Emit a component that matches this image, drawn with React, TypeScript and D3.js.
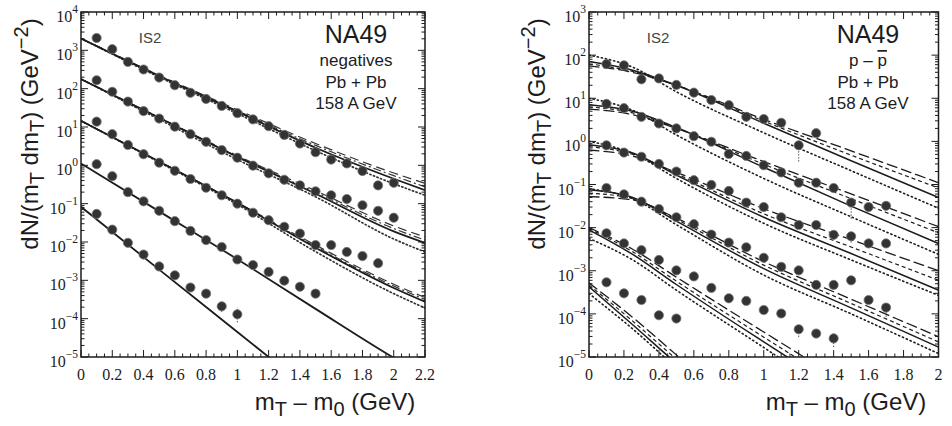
import React from "react";
import * as d3 from "d3";

// m_T - m_0 bin centres (GeV)
const mtBins = [0.1, 0.2, 0.3, 0.4, 0.5, 0.6, 0.7, 0.8, 0.9, 1.0, 1.1, 1.2, 1.3, 1.4, 1.5, 1.6, 1.7, 1.8, 1.9, 2.0];

// negative hadrons, Pb+Pb 158 A GeV: dN/(m_T dm_T) in GeV^-2, one row per rapidity slice
const negRow1 = [2100, 1070, 500, 316, 195, 123, 78, 54, 35.5, 23, 15.8, 10.5, 6.2, 3.7, 2.2, 1.41, 1.12, 0.71, 0.3, 0.35];
const negRow2 = [166, 83, 46, 26, 16.6, 10.2, 6.5, 4.1, 2.5, 1.58, 0.98, 0.62, 0.42, 0.3, 0.21, 0.166, 0.132, 0.091, 0.065, 0.043];
const negRow3 = [13.8, 6.5, 3.4, 1.95, 1.17, 0.72, 0.44, 0.26, 0.166, 0.1, 0.058, 0.037, 0.025, 0.0166, 0.0083, 0.0083, 0.0055, 0.0043, 0.0028];
const negRow4 = [1.07, 0.52, 0.2, 0.115, 0.065, 0.035, 0.0195, 0.0112, 0.0074, 0.0035, 0.0025, 0.00166, 0.00098, 0.00068, 0.00045];
const negRow5 = [0.054, 0.021, 0.0095, 0.0047, 0.0023, 0.00135, 0.00065, 0.00045, 0.00021, 0.00013];

// model curves for negatives, sampled at these m_T - m_0 values
const negKnots = [0, 0.5, 1.0, 1.5, 2.0, 2.2];
const negSolid = [
  [2040, 214, 25.1, 2.88, 0.447, 0.224],
  [178, 17.4, 1.66, 0.182, 0.019, 0.0095],
  [14.5, 1.26, 0.105, 0.0071, 6.3e-4, 2.75e-4],
  [1.12, 0.063, 0.00355, 1.8e-4, 9.5e-6, 3.2e-6],
  [0.083, 0.0019, 4.5e-5, 1.05e-6, 2.4e-8, 5e-9],
];
const negDashed = [
  [2040, 224, 28.2, 3.72, 0.631, 0.339],
  [178, 17.8, 1.78, 0.219, 0.0263, 0.0135],
  [14.5, 1.26, 0.107, 0.0083, 7.9e-4, 3.55e-4],
];
const negDashDot = [
  [2040, 219, 26.3, 3.31, 0.537, 0.275],
  [178, 17.6, 1.7, 0.2, 0.0224, 0.0112],
  [14.5, 1.26, 0.106, 0.0076, 7.1e-4, 3.16e-4],
];
const negDotted = [
  [2040, 200, 22.4, 2.4, 0.331, 0.166],
  [178, 15.8, 1.41, 0.151, 0.012, 0.0055],
  [14.5, 1.2, 0.095, 0.0056, 4.5e-4, 1.9e-4],
];
// [row, m_T - m_0, low, high]
const negErrors = [
  [4, 1.0, 8e-5, 2.0e-4],
  [4, 0.9, 1.5e-4, 2.6e-4],
  [2, 1.8, 0.0035, 0.005],
  [2, 1.9, 0.0021, 0.0035],
  [3, 1.4, 5.5e-4, 8e-4],
  [3, 1.5, 3.5e-4, 5.5e-4],
];

// net protons (p - pbar), Pb+Pb 158 A GeV
const pbarRow1 = [62, 58, 27.5, 28.8, 20.4, 13.5, 9.1, 6.9, 3.7, 3.3, 2.7, 0.81, 1.55];
const pbarRow2 = [7.4, 5.9, 3.7, 2.6, 2.0, 1.32, 0.98, 0.51, 0.46, 0.28, 0.19, 0.11, 0.11, 0.083, 0.038, 0.03, 0.032];
const pbarRow3 = [0.81, 0.55, 0.44, 0.3, 0.2, 0.126, 0.098, 0.071, 0.038, 0.03, 0.0174, 0.0115, 0.0115, 0.0068, 0.0063, 0.0043, 0.0043];
const pbarRow4 = [0.083, 0.059, 0.04, 0.027, 0.0174, 0.012, 0.0069, 0.0045, 0.0035, 0.002, 0.00123, 0.00102, 0.00047, 0.00047, 0.0006, 0.00021, 0.00014];
const pbarRow5 = [0.0074, 0.0043, 0.003, 0.00178, 0.00102, 0.00074, 0.0004, 0.00023, 0.0002, 0.000123, 0.000102, 0.000044, 0.000035, 0.000027];
const pbarRow6 = [0.00054, 0.0003, 0.00021, 0.000093, 0.000078];

const pbarKnots = [
  [0, 0.25, 0.5, 1.0, 1.5, 2.0],
  [0, 0.25, 0.5, 1.0, 1.5, 2.0],
  [0, 0.25, 0.5, 1.0, 1.5, 2.0],
  [0, 0.25, 0.5, 1.0, 1.5, 2.0],
  [0, 0.25, 0.5, 1.0, 1.25],
  [0, 0.25, 0.5, 0.6],
];
const pbarSolid = [
  [70.8, 44.7, 20.0, 2.63, 0.355, 0.0501],
  [7.08, 5.01, 2.09, 0.251, 0.0316, 0.00427],
  [0.832, 0.537, 0.166, 0.0174, 0.00251, 3.55e-4],
  [0.0759, 0.0501, 0.0141, 0.00112, 1.38e-4, 1.7e-5],
  [0.0089, 0.0024, 4.8e-4, 2.24e-5, 5.0e-6],
  [4.27e-4, 5.6e-5, 7.1e-6, 3.16e-6],
];
const pbarDashed = [
  [56.2, 39.8, 20.0, 3.24, 0.603, 0.11],
  [5.62, 4.17, 2.0, 0.339, 0.0603, 0.0105],
  [0.631, 0.457, 0.191, 0.0275, 0.00525, 0.001],
  [0.0525, 0.0437, 0.0166, 0.00162, 2.19e-4, 2.95e-5],
  [0.01, 0.00316, 7.1e-4, 3.8e-5, 8.9e-6],
  [5.25e-4, 8.3e-5, 1.12e-5, 5.0e-6],
];
const pbarShortDash = [
  [63.1, 41.7, 20.0, 2.95, 0.479, 0.0832],
  [6.31, 4.57, 2.04, 0.295, 0.0468, 0.00759],
  [0.759, 0.501, 0.178, 0.0209, 0.00355, 6.03e-4],
  [0.0631, 0.0468, 0.0155, 0.00135, 1.74e-4, 2.24e-5],
  [0.00955, 0.00275, 5.75e-4, 2.88e-5, 6.6e-6],
  [4.68e-4, 6.8e-5, 8.9e-6, 4.0e-6],
];
const pbarDotted = [
  [100, 52.5, 14.1, 1.58, 0.209, 0.0282],
  [10, 5.25, 1.41, 0.138, 0.0178, 0.0024],
  [1.0, 0.525, 0.138, 0.0126, 0.00178, 2.69e-4],
  [0.0794, 0.0468, 0.0117, 7.94e-4, 1.0e-4, 1.2e-5],
  [0.00562, 0.00178, 3.55e-4, 1.66e-5, 3.55e-6],
  [2.95e-4, 4.47e-5, 5.6e-6, 2.5e-6],
];
const pbarErrors = [
  [0, 1.2, 0.34, 1.07],
  [1, 1.5, 0.016, 0.044],
  [2, 1.5, 0.0045, 0.008],
  [3, 1.7, 8.5e-5, 1.7e-4],
  [4, 1.2, 2.9e-5, 5.5e-5],
  [4, 1.4, 1.7e-5, 3.5e-5],
];

const xTickLabelsNeg = ["0", "0.2", "0.4", "0.6", "0.8", "1", "1.2", "1.4", "1.6", "1.8", "2", "2.2"];
const xTickLabelsPbar = ["0", "0.2", "0.4", "0.6", "0.8", "1", "1.2", "1.4", "1.6", "1.8", "2"];

const SANS = "'Liberation Sans', Arial, Helvetica, sans-serif";
const SERIF = "'Liberation Serif', 'Times New Roman', serif";
const INK = "#1c1c1c";

type Fit = { rows: number[][]; dash: string | null; width: number; color: string };

type PanelProps = {
  id: string;
  left: number;
  right: number;
  top: number;
  bottom: number;
  xMax: number;
  yMin: number;
  yMax: number;
  xLabels: string[];
  rows: number[][];
  knots: number[][];
  fits: Fit[];
  errors: number[][];
};

function Panel(p: PanelProps) {
  const x = d3.scaleLinear().domain([0, p.xMax]).range([p.left, p.right]);
  const y = d3.scaleLog().domain([p.yMin, p.yMax]).range([p.bottom, p.top]);
  const line = d3
    .line<[number, number]>()
    .x((d) => x(d[0]))
    .y((d) => y(d[1]))
    .curve(d3.curveMonotoneX);

  const xMajor = d3.range(0, p.xMax + 1e-6, 0.2);
  const xMinor = d3.range(0, p.xMax + 1e-6, 0.05).filter((v) => Math.abs(v / 0.2 - Math.round(v / 0.2)) > 1e-6);
  const e0 = Math.round(Math.log10(p.yMin));
  const e1 = Math.round(Math.log10(p.yMax));
  const decades = d3.range(e0, e1 + 1);
  const yMinor: number[] = [];
  decades.slice(0, -1).forEach((e) => {
    for (let m = 2; m <= 9; m++) yMinor.push(m * Math.pow(10, e));
  });

  const MAJ = 7;
  const MIN = 3.5;

  return (
    <g>
      <defs>
        <clipPath id={`clip-${p.id}`}>
          <rect x={p.left} y={p.top} width={p.right - p.left} height={p.bottom - p.top} />
        </clipPath>
      </defs>

      {/* model curves */}
      <g clipPath={`url(#clip-${p.id})`} fill="none">
        {p.fits.map((f, fi) =>
          f.rows.map((vals, ri) => (
            <path
              key={`f${fi}-${ri}`}
              d={line(p.knots[ri].map((k, i) => [k, vals[i]] as [number, number])) || ""}
              stroke={f.color}
              strokeWidth={f.width}
              strokeDasharray={f.dash || undefined}
              strokeLinecap={f.dash && f.dash.startsWith("1") ? "round" : "butt"}
            />
          ))
        )}
      </g>

      {/* error bars */}
      <g clipPath={`url(#clip-${p.id})`}>
        {p.errors.map((e, i) => (
          <line
            key={`e${i}`}
            x1={x(e[1])}
            x2={x(e[1])}
            y1={y(e[2])}
            y2={y(e[3])}
            stroke="#555"
            strokeWidth={1}
            strokeDasharray="1.5 1.5"
          />
        ))}
      </g>

      {/* data points */}
      <g clipPath={`url(#clip-${p.id})`}>
        {p.rows.map((vals, ri) =>
          vals.map((v, i) => (
            <circle key={`p${ri}-${i}`} cx={x(mtBins[i])} cy={y(v)} r={4.6} fill="#333" stroke="#777" strokeWidth={0.8} />
          ))
        )}
      </g>

      {/* frame */}
      <rect x={p.left} y={p.top} width={p.right - p.left} height={p.bottom - p.top} fill="none" stroke={INK} strokeWidth={1.5} />

      {/* ticks on all four sides */}
      <g stroke={INK} strokeWidth={1}>
        {xMajor.map((v, i) => (
          <g key={`xM${i}`}>
            <line x1={x(v)} x2={x(v)} y1={p.bottom} y2={p.bottom - MAJ} />
            <line x1={x(v)} x2={x(v)} y1={p.top} y2={p.top + MAJ} />
          </g>
        ))}
        {xMinor.map((v, i) => (
          <g key={`xm${i}`}>
            <line x1={x(v)} x2={x(v)} y1={p.bottom} y2={p.bottom - MIN} />
            <line x1={x(v)} x2={x(v)} y1={p.top} y2={p.top + MIN} />
          </g>
        ))}
        {decades.map((e) => (
          <g key={`yM${e}`}>
            <line x1={p.left} x2={p.left + MAJ} y1={y(Math.pow(10, e))} y2={y(Math.pow(10, e))} />
            <line x1={p.right} x2={p.right - MAJ} y1={y(Math.pow(10, e))} y2={y(Math.pow(10, e))} />
          </g>
        ))}
        {yMinor.map((v, i) => (
          <g key={`ym${i}`}>
            <line x1={p.left} x2={p.left + MIN} y1={y(v)} y2={y(v)} />
            <line x1={p.right} x2={p.right - MIN} y1={y(v)} y2={y(v)} />
          </g>
        ))}
      </g>

      {/* tick labels */}
      <g fontFamily={SERIF} fill={INK}>
        {xMajor.map((v, i) => (
          <text key={`xl${i}`} x={x(v)} y={p.bottom + 23} fontSize={16} textAnchor="middle">
            {p.xLabels[i]}
          </text>
        ))}
        {decades.map((e) => (
          <text key={`yl${e}`} x={p.left - 3} y={y(Math.pow(10, e)) + 10} fontSize={16} textAnchor="end">
            10
            <tspan dy={-9} fontSize={11.5}>
              {e < 0 ? `\u2212${-e}` : `${e}`}
            </tspan>
          </text>
        ))}
      </g>
    </g>
  );
}

function YTitle({ x, y }: { x: number; y: number }) {
  return (
    <text transform={`translate(${x},${y}) rotate(-90)`} textAnchor="middle" fontFamily={SANS} fontSize={24} fill={INK}>
      dN/(m
      <tspan dy={6} fontSize={20}>T</tspan>
      <tspan dy={-6}> dm</tspan>
      <tspan dy={6} fontSize={20}>T</tspan>
      <tspan dy={-6}>) (GeV</tspan>
      <tspan dy={-10} fontSize={20}>{"\u22122"}</tspan>
      <tspan dy={10}>)</tspan>
    </text>
  );
}

function XTitle({ x, y }: { x: number; y: number }) {
  return (
    <text x={x} y={y} textAnchor="middle" fontFamily={SANS} fontSize={24} fill={INK}>
      m
      <tspan dy={6} fontSize={20}>T</tspan>
      <tspan dy={-6}>{" \u2013 m"}</tspan>
      <tspan dy={6} fontSize={20}>0</tspan>
      <tspan dy={-6}>{" (GeV)"}</tspan>
    </text>
  );
}

export default function App() {
  const negFits: Fit[] = [
    { rows: negDotted, dash: "1.2 2.6", width: 1.7, color: "#333" },
    { rows: negDashDot, dash: "8 3 2 3", width: 1.2, color: "#333" },
    { rows: negDashed, dash: "9 5", width: 1.2, color: "#333" },
    { rows: negSolid, dash: null, width: 1.8, color: INK },
  ];
  const pbarFits: Fit[] = [
    { rows: pbarDotted, dash: "1.2 3", width: 1.6, color: INK },
    { rows: pbarShortDash, dash: "4 3", width: 1.2, color: INK },
    { rows: pbarDashed, dash: "10 5", width: 1.3, color: INK },
    { rows: pbarSolid, dash: null, width: 1.5, color: INK },
  ];

  return (
    <svg
      width={952}
      height={426}
      viewBox="0 0 952 426"
      style={{ position: "absolute", left: 0, top: 0, background: "#fff" }}
    >
      <rect width={952} height={426} fill="#fff" />

      <Panel
        id="neg"
        left={81}
        right={425}
        top={12}
        bottom={357}
        xMax={2.2}
        yMin={1e-5}
        yMax={1e4}
        xLabels={xTickLabelsNeg}
        rows={[negRow1, negRow2, negRow3, negRow4, negRow5]}
        knots={[negKnots, negKnots, negKnots, negKnots, negKnots]}
        fits={negFits}
        errors={negErrors}
      />
      <Panel
        id="pbar"
        left={589}
        right={938.5}
        top={12}
        bottom={357}
        xMax={2}
        yMin={1e-5}
        yMax={1e3}
        xLabels={xTickLabelsPbar}
        rows={[pbarRow1, pbarRow2, pbarRow3, pbarRow4, pbarRow5, pbarRow6]}
        knots={pbarKnots}
        fits={pbarFits}
        errors={pbarErrors}
      />

      <YTitle x={38} y={134} />
      <YTitle x={545} y={134} />
      <XTitle x={335} y={410} />
      <XTitle x={846} y={410} />

      {/* panel annotations */}
      <g fontFamily={SANS} fill={INK} textAnchor="middle">
        <text x={150} y={43} fontSize={15} fill="#444">IS2</text>
        <text x={356} y={43} fontSize={25}>NA49</text>
        <text x={356} y={66} fontSize={17}>negatives</text>
        <text x={356} y={88} fontSize={17}>Pb + Pb</text>
        <text x={356} y={109} fontSize={17}>158 A GeV</text>

        <text x={658} y={43} fontSize={15} fill="#444">IS2</text>
        <text x={868} y={43} fontSize={25}>NA49</text>
        <text x={868} y={66} fontSize={17}>
          {"p \u2013 "}
          <tspan style={{ textDecoration: "overline" }}>p</tspan>
        </text>
        <text x={868} y={88} fontSize={17}>Pb + Pb</text>
        <text x={868} y={109} fontSize={17}>158 A GeV</text>
      </g>
    </svg>
  );
}
